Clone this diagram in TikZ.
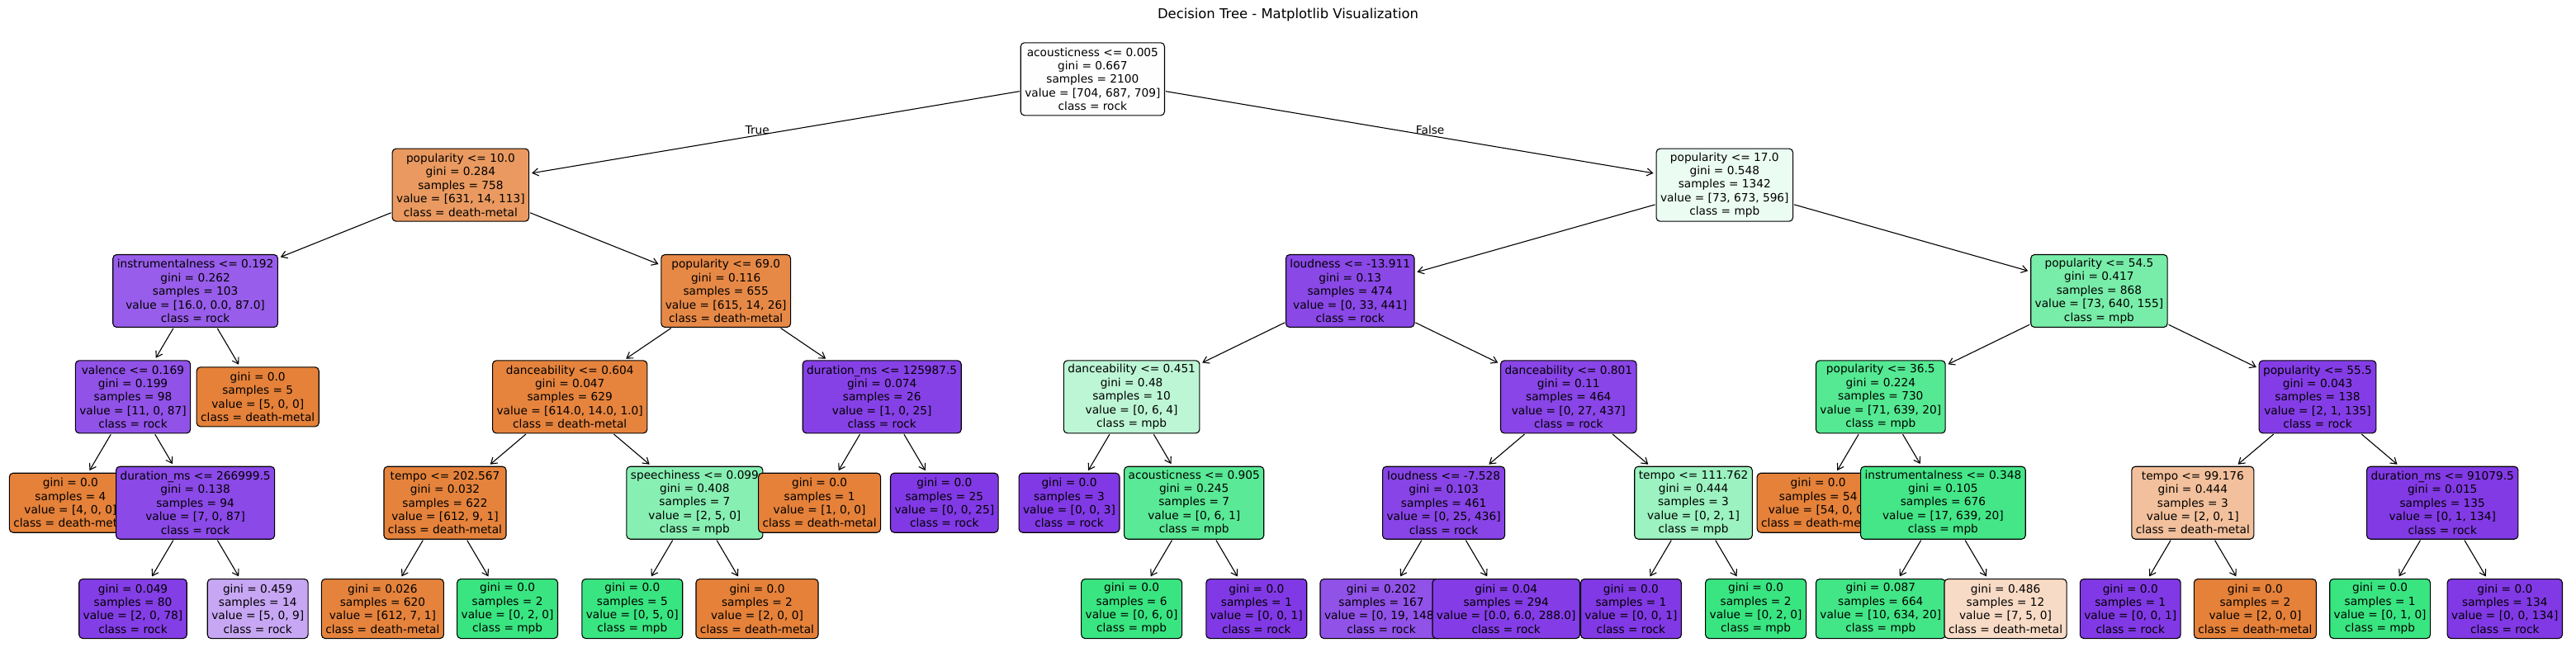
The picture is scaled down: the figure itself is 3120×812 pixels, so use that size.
\documentclass[tikz,border=0pt]{standalone}
\usepackage{fontspec}
\setmainfont{DejaVu Sans}
\usetikzlibrary{arrows.meta,calc}
\begin{document}
\begin{tikzpicture}[
  tn/.style={draw=black, line width=1.1pt, rounded corners=4.5pt, align=center,
             inner xsep=5pt, inner ysep=0pt, font=\fontsize{13.7}{16.4}\selectfont},
  int/.style={tn, minimum height=88pt},
  lf/.style={tn, minimum height=72pt},
  fc/.style args={#1/#2/#3}{fill={rgb,255:red,#1;green,#2;blue,#3}},
  edge/.style={line width=1.1pt, -{Straight Barb[length=7pt,width=9pt]}, shorten >=3pt, shorten <=1pt},
  lbl/.style={inner sep=0pt, font=\fontsize{13.7}{16.4}\selectfont},
]
\useasboundingbox (0pt,0pt) rectangle (3120pt,-812pt);
\node[font=\fontsize{16.4}{19.7}\selectfont, inner sep=0pt] (title) at (1560pt,-18pt) {Decision Tree - Matplotlib Visualization};
\begin{scope}[x=151.2pt, y=-128.35pt, shift={(161pt,-95.8pt)}]
% pre-order drawing
\node[int, fc=254/254/255] (root) at (7.6875,0) {acousticness <= 0.005\\gini = 0.667\\samples = 2100\\value = [704, 687, 709]\\class = rock};
\node[int, fc=234/154/96] (p10) at (2.625,1) {popularity <= 10.0\\gini = 0.284\\samples = 758\\value = [631, 14, 113]\\class = death-metal};
\node[int, fc=152/93/234] (ins192) at (0.5,2) {instrumentalness <= 0.192\\gini = 0.262\\samples = 103\\value = [16.0, 0.0, 87.0]\\class = rock};
\node[int, fc=145/82/232] (val) at (0,3) {valence <= 0.169\\gini = 0.199\\samples = 98\\value = [11, 0, 87]\\class = rock};
\node[lf, fc=229/129/57] (leaf4) at (-0.5,4) {gini = 0.0\\samples = 4\\value = [4, 0, 0]\\class = death-metal};
\node[int, fc=139/73/231] (dur266) at (0.5,4) {duration\_ms <= 266999.5\\gini = 0.138\\samples = 94\\value = [7, 0, 87]\\class = rock};
\node[lf, fc=132/62/230] (g049) at (0,5) {gini = 0.049\\samples = 80\\value = [2, 0, 78]\\class = rock};
\node[lf, fc=199/167/243] (g459) at (1,5) {gini = 0.459\\samples = 14\\value = [5, 0, 9]\\class = rock};
\node[lf, fc=229/129/57] (leaf5) at (1,3) {gini = 0.0\\samples = 5\\value = [5, 0, 0]\\class = death-metal};
\node[int, fc=231/137/70] (p69) at (4.75,2) {popularity <= 69.0\\gini = 0.116\\samples = 655\\value = [615, 14, 26]\\class = death-metal};
\node[int, fc=230/132/62] (dance604) at (3.5,3) {danceability <= 0.604\\gini = 0.047\\samples = 629\\value = [614.0, 14.0, 1.0]\\class = death-metal};
\node[int, fc=229/131/60] (tempo202) at (2.5,4) {tempo <= 202.567\\gini = 0.032\\samples = 622\\value = [612, 9, 1]\\class = death-metal};
\node[lf, fc=229/131/60] (g026) at (2,5) {gini = 0.026\\samples = 620\\value = [612, 7, 1]\\class = death-metal};
\node[lf, fc=57/229/129] (ga) at (3,5) {gini = 0.0\\samples = 2\\value = [0, 2, 0]\\class = mpb};
\node[int, fc=136/239/179] (speech) at (4.5,4) {speechiness <= 0.099\\gini = 0.408\\samples = 7\\value = [2, 5, 0]\\class = mpb};
\node[lf, fc=57/229/129] (gb) at (4,5) {gini = 0.0\\samples = 5\\value = [0, 5, 0]\\class = mpb};
\node[lf, fc=229/129/57] (gc) at (5,5) {gini = 0.0\\samples = 2\\value = [2, 0, 0]\\class = death-metal};
\node[int, fc=134/65/230] (dur125) at (6,3) {duration\_ms <= 125987.5\\gini = 0.074\\samples = 26\\value = [1, 0, 25]\\class = rock};
\node[lf, fc=229/129/57] (leaf1) at (5.5,4) {gini = 0.0\\samples = 1\\value = [1, 0, 0]\\class = death-metal};
\node[lf, fc=129/57/229] (leaf25) at (6.5,4) {gini = 0.0\\samples = 25\\value = [0, 0, 25]\\class = rock};
\node[int, fc=235/252/242] (p17) at (12.75,1) {popularity <= 17.0\\gini = 0.548\\samples = 1342\\value = [73, 673, 596]\\class = mpb};
\node[int, fc=138/72/231] (loud139) at (9.75,2) {loudness <= -13.911\\gini = 0.13\\samples = 474\\value = [0, 33, 441]\\class = rock};
\node[int, fc=189/246/213] (dance451) at (8,3) {danceability <= 0.451\\gini = 0.48\\samples = 10\\value = [0, 6, 4]\\class = mpb};
\node[lf, fc=129/57/229] (leaf3) at (7.5,4) {gini = 0.0\\samples = 3\\value = [0, 0, 3]\\class = rock};
\node[int, fc=90/233/150] (acou905) at (8.5,4) {acousticness <= 0.905\\gini = 0.245\\samples = 7\\value = [0, 6, 1]\\class = mpb};
\node[lf, fc=57/229/129] (gd) at (8,5) {gini = 0.0\\samples = 6\\value = [0, 6, 0]\\class = mpb};
\node[lf, fc=129/57/229] (ge) at (9,5) {gini = 0.0\\samples = 1\\value = [0, 0, 1]\\class = rock};
\node[int, fc=137/69/231] (dance801) at (11.5,3) {danceability <= 0.801\\gini = 0.11\\samples = 464\\value = [0, 27, 437]\\class = rock};
\node[int, fc=136/68/230] (loud75) at (10.5,4) {loudness <= -7.528\\gini = 0.103\\samples = 461\\value = [0, 25, 436]\\class = rock};
\node[lf, fc=145/82/232] (g202) at (10,5) {gini = 0.202\\samples = 167\\value = [0, 19, 148]\\class = rock};
\node[lf, fc=132/61/230] (g04) at (11,5) {gini = 0.04\\samples = 294\\value = [0.0, 6.0, 288.0]\\class = rock};
\node[int, fc=156/242/192] (tempo111) at (12.5,4) {tempo <= 111.762\\gini = 0.444\\samples = 3\\value = [0, 2, 1]\\class = mpb};
\node[lf, fc=129/57/229] (gf) at (12,5) {gini = 0.0\\samples = 1\\value = [0, 0, 1]\\class = rock};
\node[lf, fc=57/229/129] (gg) at (13,5) {gini = 0.0\\samples = 2\\value = [0, 2, 0]\\class = mpb};
\node[int, fc=120/237/169] (p545) at (15.75,2) {popularity <= 54.5\\gini = 0.417\\samples = 868\\value = [73, 640, 155]\\class = mpb};
\node[int, fc=84/233/146] (p365) at (14,3) {popularity <= 36.5\\gini = 0.224\\samples = 730\\value = [71, 639, 20]\\class = mpb};
\node[lf, fc=229/129/57] (leaf54) at (13.5,4) {gini = 0.0\\samples = 54\\value = [54, 0, 0]\\class = death-metal};
\node[int, fc=68/230/136] (ins348) at (14.5,4) {instrumentalness <= 0.348\\gini = 0.105\\samples = 676\\value = [17, 639, 20]\\class = mpb};
\node[lf, fc=66/230/135] (g087) at (14,5) {gini = 0.087\\samples = 664\\value = [10, 634, 20]\\class = mpb};
\node[lf, fc=248/219/198] (g486) at (15,5) {gini = 0.486\\samples = 12\\value = [7, 5, 0]\\class = death-metal};
\node[int, fc=132/61/230] (p555) at (17.5,3) {popularity <= 55.5\\gini = 0.043\\samples = 138\\value = [2, 1, 135]\\class = rock};
\node[int, fc=242/192/156] (tempo99) at (16.5,4) {tempo <= 99.176\\gini = 0.444\\samples = 3\\value = [2, 0, 1]\\class = death-metal};
\node[lf, fc=129/57/229] (gh) at (16,5) {gini = 0.0\\samples = 1\\value = [0, 0, 1]\\class = rock};
\node[lf, fc=229/129/57] (gi) at (17,5) {gini = 0.0\\samples = 2\\value = [2, 0, 0]\\class = death-metal};
\node[int, fc=130/58/229] (dur91) at (18.5,4) {duration\_ms <= 91079.5\\gini = 0.015\\samples = 135\\value = [0, 1, 134]\\class = rock};
\node[lf, fc=57/229/129] (gj) at (18,5) {gini = 0.0\\samples = 1\\value = [0, 1, 0]\\class = mpb};
\node[lf, fc=129/57/229] (gk) at (19,5) {gini = 0.0\\samples = 134\\value = [0, 0, 134]\\class = rock};
\end{scope}
% edges
\foreach \a/\b in {root/p10, root/p17, p10/ins192, p10/p69, ins192/val, ins192/leaf5,
  val/leaf4, val/dur266, dur266/g049, dur266/g459, p69/dance604, p69/dur125,
  dance604/tempo202, dance604/speech, tempo202/g026, tempo202/ga, speech/gb, speech/gc,
  dur125/leaf1, dur125/leaf25, p17/loud139, p17/p545, loud139/dance451, loud139/dance801,
  dance451/leaf3, dance451/acou905, acou905/gd, acou905/ge, dance801/loud75, dance801/tempo111,
  loud75/g202, loud75/g04, tempo111/gf, tempo111/gg, p545/p365, p545/p555, p365/leaf54, p365/ins348,
  ins348/g087, ins348/g486, p555/tempo99, p555/dur91, tempo99/gh, tempo99/gi, dur91/gj, dur91/gk}
  \draw[edge] (\a) -- (\b);
\node[lbl, anchor=east, xshift=-8.7pt, yshift=2.5pt] (tl) at ($(root.center)!0.5!(p10.center)$) {True};
\node[lbl, anchor=west, xshift=8.7pt, yshift=2.5pt] (fl) at ($(root.center)!0.5!(p17.center)$) {False};
\end{tikzpicture}
\end{document}
